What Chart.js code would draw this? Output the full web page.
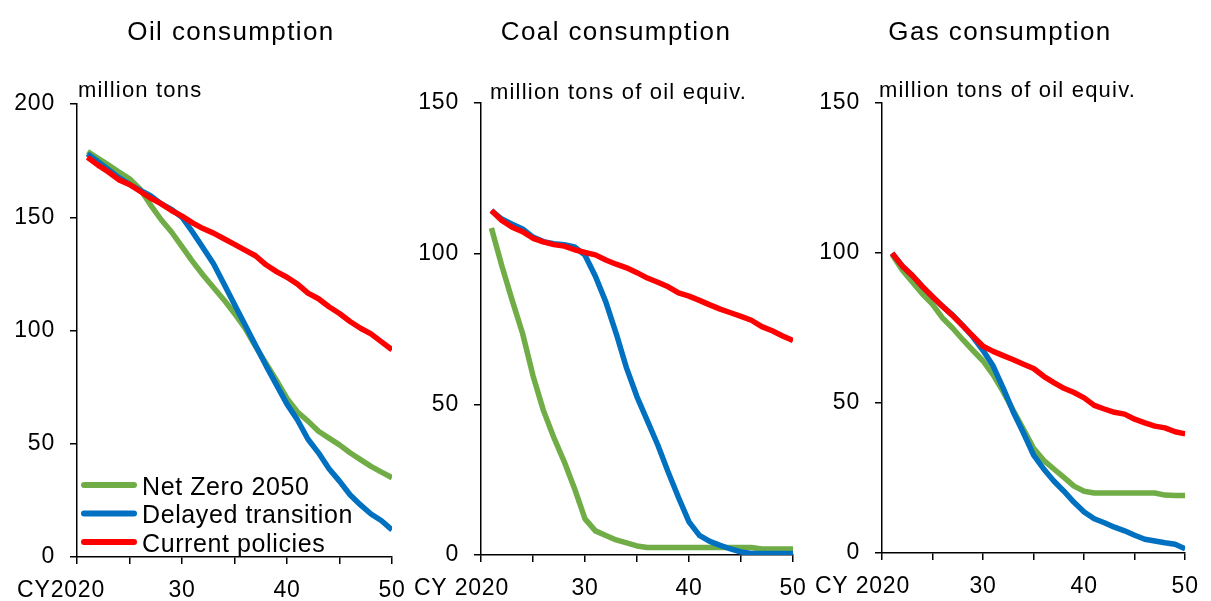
<!DOCTYPE html>
<html>
<head>
<meta charset="utf-8">
<script src="https://cdn.jsdelivr.net/npm/chart.js@4.4.1/dist/chart.umd.min.js"></script>
<style>
    html, body { margin: 0; padding: 0; background: #fff; }
    #wrap { position: relative; width: 1211px; height: 601px; overflow: hidden; }
    .panel { position: absolute; top: 0; height: 601px; }
</style>
</head>
<body>
<div id="wrap">
    <div class="panel" style="left:0;width:420px"><canvas id="oil-chart"></canvas></div>
    <div class="panel" style="left:400px;width:420px"><canvas id="coal-chart"></canvas></div>
    <div class="panel" style="left:800px;width:411px"><canvas id="gas-chart"></canvas></div>
</div>
<script>
// --- data ---
const YEARS = [2021, 2022, 2023, 2024, 2025, 2026, 2027, 2028, 2029, 2030,
               2031, 2032, 2033, 2034, 2035, 2036, 2037, 2038, 2039, 2040,
               2041, 2042, 2043, 2044, 2045, 2046, 2047, 2048, 2049, 2050];
const SERIES_NAMES = ['Net Zero 2050', 'Delayed transition', 'Current policies'];

const OIL_NZ = [179, 176, 173, 170, 167, 162.5, 155.5, 149, 143.5, 137,
                130.5, 124.5, 119, 113.5, 107.5, 101, 93, 85.5, 78, 70,
                64, 60, 55.5, 52.5, 49.5, 46, 43, 40, 37.5, 35];
const OIL_DT = [178, 174.5, 171, 167.5, 164.5, 162, 159.5, 156, 153.5, 150,
                143.5, 136.5, 129.5, 120.5, 111.5, 102.5, 93.5, 84.5, 76, 67.5,
                60.5, 52, 46, 39, 33.5, 27.5, 23, 19, 16, 12];
const OIL_CP = [176.5, 173, 170, 166.5, 164.5, 161.5, 158.5, 156, 153, 150.5,
                147.5, 145, 143, 140.5, 138, 135.5, 133, 129, 126, 123.5,
                120.5, 116.5, 114, 110.5, 107.5, 104, 101, 98.5, 95, 91.5];

const COAL_NZ = [108.5, 96, 84.5, 73.5, 59.5, 48, 39, 31, 22, 12,
                 8, 6.5, 5, 4, 3, 2.5, 2.5, 2.5, 2.5, 2.5,
                 2.5, 2.5, 2.5, 2.5, 2.5, 2.5, 2, 2, 2, 2];
const COAL_DT = [114.3, 111.5, 109.8, 108.2, 105.5, 104, 103.3, 103, 102.2, 99.5,
                 92.5, 84, 73.5, 62, 52.5, 44.5, 36.5, 27.5, 19, 11,
                 6.5, 4.5, 3.2, 2, 1, 0.5, 0.5, 0.5, 0.5, 0.5];
const COAL_CP = [114.3, 111, 108.8, 107.3, 105.1, 103.9, 103, 102.5, 101.3, 100.4,
                 99.6, 97.9, 96.5, 95.3, 93.7, 91.9, 90.5, 89, 87, 85.9,
                 84.5, 83, 81.6, 80.4, 79.2, 77.9, 75.8, 74.4, 72.7, 71.2];

const GAS_NZ = [99.5, 94.3, 90.3, 86.3, 82.9, 78.3, 74.9, 71.1, 67.5, 64,
                59.4, 53.7, 47.4, 41.2, 34.9, 30.9, 28, 25.2, 22.3, 20.6,
                20, 20, 20, 20, 20, 20, 20, 19.3, 19.2, 19.2];
const GAS_DT = [99.9, 95.7, 92.5, 88.8, 85.4, 82.2, 79.3, 75.8, 72, 67.5,
                62.3, 54.9, 46.9, 40, 32.6, 28, 24, 20.6, 16.9, 13.7,
                11.4, 10.1, 8.6, 7.4, 5.9, 4.6, 4, 3.4, 2.9, 1.4];
const GAS_CP = [99.9, 95.7, 92.5, 88.8, 85.4, 82.2, 79.1, 75.7, 72.3, 68.9,
                67.2, 65.8, 64.4, 62.9, 61.5, 58.9, 56.8, 54.9, 53.5, 51.7,
                49.2, 48, 46.9, 46.3, 44.6, 43.4, 42.3, 41.7, 40.4, 39.7];

const X_TICK_LABELS = { 2030: '30', 2040: '40', 2050: '50' };
const FIRST_YEAR_LABELS = ['CY2020', 'CY 2020', 'CY 2020'];
const PANEL_TITLES = ['Oil consumption', 'Coal consumption', 'Gas consumption'];
const UNIT_LABELS = ['million tons', 'million tons of oil equiv.', 'million tons of oil equiv.'];
const Y_MAX = [200, 150, 150];

// --- styling ---
const FONT = '"Liberation Sans", Arial, sans-serif';
const GREEN = '#70AD47';
const BLUE = '#0070C0';
const RED = '#FF0000';
const CANVAS_H = 601;

Chart.defaults.font.family = FONT;
Chart.defaults.color = '#000';

// layout of each panel inside its canvas
const panels = [
    { id: 'oil-chart', width: 420, plot: { left: 77, top: 104, right: 392, bottom: 557 }, titleX: 231, unitX: 78, unitY: 97, legend: true,
      series: [OIL_NZ, OIL_DT, OIL_CP] },
    { id: 'coal-chart', width: 420, plot: { left: 81, top: 103, right: 393, bottom: 555 }, titleX: 216, unitX: 90, unitY: 99, legend: false,
      series: [COAL_NZ, COAL_DT, COAL_CP] },
    { id: 'gas-chart', width: 411, plot: { left: 82, top: 103, right: 393, bottom: 553 }, titleX: 200, unitX: 79, unitY: 97, legend: false,
      series: [GAS_NZ, GAS_DT, GAS_CP] }
];

const TICK_LEN = 7;
const X_PAD = 13;
const TICK_FONT = 23;

// titles, unit labels, CY label and the legend
const panelText = {
    id: 'panelText',
    beforeDraw(chart) {
        chart.ctx.letterSpacing = '0.8px';
    },
    afterDraw(chart, args, opts) {
        const { ctx } = chart;
        const x = chart.scales.x;
        ctx.save();
        ctx.fillStyle = '#000';

        ctx.letterSpacing = '1.4px';
        ctx.font = `26px ${FONT}`;
        ctx.textAlign = 'center';
        ctx.textBaseline = 'alphabetic';
        ctx.fillText(opts.title, opts.titleX, 40);

        ctx.letterSpacing = '1.2px';
        ctx.font = `22px ${FONT}`;
        ctx.textAlign = 'left';
        ctx.fillText(opts.unit, opts.unitX, opts.unitY);

        ctx.letterSpacing = '0.8px';
        ctx.font = `${TICK_FONT}px ${FONT}`;
        ctx.textAlign = 'right';
        ctx.textBaseline = 'middle';
        ctx.fillText(opts.firstYear, x.getPixelForValue(2020) + 28, x.top + TICK_LEN + X_PAD + TICK_FONT * 0.6);

        if (opts.legend) {
            ctx.letterSpacing = '0.6px';
            ctx.font = `25px ${FONT}`;
            ctx.textBaseline = 'alphabetic';
            ctx.textAlign = 'left';
            chart.data.datasets.forEach((ds, i) => {
                const ly = 485 + i * 28.5;
                ctx.beginPath();
                ctx.strokeStyle = ds.borderColor;
                ctx.lineWidth = 6;
                ctx.lineCap = 'round';
                ctx.moveTo(84, ly);
                ctx.lineTo(134, ly);
                ctx.stroke();
                ctx.fillText(ds.label, 142, ly + 9.5);
            });
        }
        ctx.restore();
    }
};

const makeDataset = (label, values, color, order) => ({
    label: label,
    data: YEARS.map((yr, i) => ({ x: yr, y: values[i] })),
    borderColor: color,
    backgroundColor: color,
    borderWidth: 5.5,
    pointRadius: 0,
    tension: 0,
    borderJoinStyle: 'round',
    order: order
});

panels.forEach((p, idx) => {
    const ctx = document.getElementById(p.id).getContext('2d');
    const colors = [GREEN, BLUE, RED];
    const orders = [3, 2, 1]; // red on top

    new Chart(ctx, {
        type: 'line',
        data: {
            datasets: p.series.map((vals, i) => makeDataset(SERIES_NAMES[i], vals, colors[i], orders[i]))
        },
        options: {
            responsive: true,
            maintainAspectRatio: false,
            animation: false,
            layout: {
                padding: { left: 0, top: p.plot.top, right: p.width - p.plot.right, bottom: 0 }
            },
            plugins: {
                legend: { display: false },
                title: { display: false },
                tooltip: { enabled: false },
                panelText: {
                    title: PANEL_TITLES[idx],
                    titleX: p.titleX,
                    unit: UNIT_LABELS[idx],
                    unitX: p.unitX,
                    unitY: p.unitY,
                    firstYear: FIRST_YEAR_LABELS[idx],
                    legend: p.legend
                }
            },
            scales: {
                x: {
                    type: 'linear',
                    min: 2020,
                    max: 2050,
                    afterFit: s => { s.height = CANVAS_H - p.plot.bottom; },
                    border: { color: '#000', width: 1.5 },
                    grid: { drawOnChartArea: false, drawTicks: true, tickLength: TICK_LEN, color: '#000', lineWidth: 1.5 },
                    ticks: {
                        stepSize: 5,
                        autoSkip: false,
                        maxRotation: 0,
                        padding: X_PAD,
                        color: '#000',
                        font: { size: TICK_FONT },
                        callback: v => X_TICK_LABELS[v] || ''
                    }
                },
                y: {
                    min: 0,
                    max: Y_MAX[idx],
                    afterFit: s => { s.width = p.plot.left; },
                    border: { color: '#000', width: 1.5 },
                    grid: { drawOnChartArea: false, drawTicks: true, tickLength: TICK_LEN, color: '#000', lineWidth: 1.5 },
                    ticks: {
                        stepSize: 50,
                        padding: 15,
                        color: '#000',
                        font: { size: TICK_FONT }
                    }
                }
            }
        },
        plugins: [panelText]
    });
});
</script>
</body>
</html>
